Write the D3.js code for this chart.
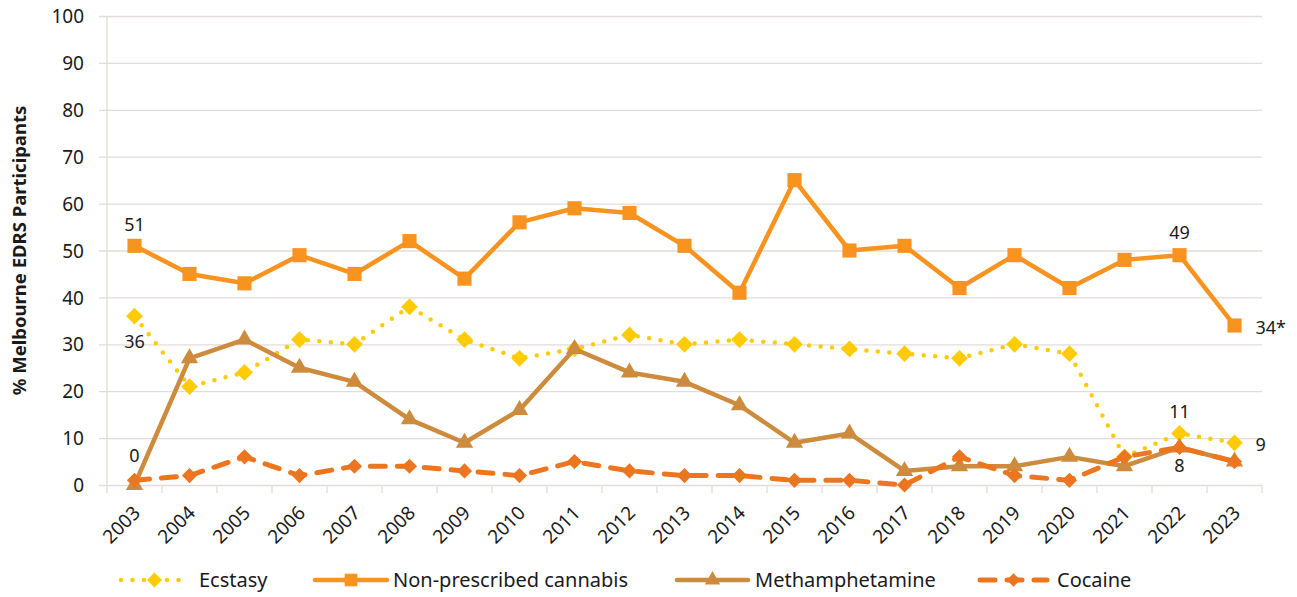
<!DOCTYPE html>
<html>
<head>
<meta charset="utf-8">
<script src="https://cdn.jsdelivr.net/npm/d3@7"></script>
<style>
body { margin: 0; background: #fff; }
svg text { font-family: "Noto Sans", "Open Sans", sans-serif; fill: #1a1a1a; }
</style>
</head>
<body>
<div id="chart"></div>
<script>
var years = ['2003','2004','2005','2006','2007','2008','2009','2010','2011','2012','2013','2014','2015','2016','2017','2018','2019','2020','2021','2022','2023'];
var ecstasy = [36,21,24,31,30,38,31,27,29,32,30,31,30,29,28,27,30,28,6,11,9];
var cannabis = [51,45,43,49,45,52,44,56,59,58,51,41,65,50,51,42,49,42,48,49,34];
var meth = [0,27,31,25,22,14,9,16,29,24,22,17,9,11,3,4,4,6,4,8,5];
var cocaine = [1,2,6,2,4,4,3,2,5,3,2,2,1,1,0,6,2,1,6,8,5];
var yTicks = [0,10,20,30,40,50,60,70,80,90,100];

var width = 1297, height = 597;
var margin = {left: 107, right: 35, top: 16, bottom: 112};

var svg = d3.select('#chart').append('svg')
    .attr('width', width)
    .attr('height', height);

var x = d3.scaleBand()
    .domain(years)
    .range([margin.left, width - margin.right]);

var y = d3.scaleLinear()
    .domain([0, 100])
    .range([height - margin.bottom, margin.top]);

var gridColor = '#e2dcd9';

// y gridlines + labels
var yAxis = svg.append('g')
    .attr('transform', 'translate(' + margin.left + ',0)')
    .call(d3.axisLeft(y).tickValues(yTicks).tickSize(-(width - margin.left - margin.right)));
yAxis.select('.domain').remove();
yAxis.selectAll('.tick line')
    .attr('stroke', gridColor)
    .attr('stroke-width', 1.3)
    .attr('x1', -8);
yAxis.selectAll('.tick text')
    .style('font-size', '19px')
    .attr('x', -23)
    .attr('dy', '0.35em');

// left axis line
svg.append('line')
    .attr('x1', margin.left).attr('x2', margin.left)
    .attr('y1', margin.top).attr('y2', y(0))
    .attr('stroke', gridColor).attr('stroke-width', 1.3);

// x ticks at category boundaries
var bounds = years.map(function(d){ return x(d); }).concat([x.range()[1]]);
svg.append('g').selectAll('line')
    .data(bounds)
    .enter()
    .append('line')
    .attr('x1', function(d){ return d; })
    .attr('x2', function(d){ return d; })
    .attr('y1', y(0))
    .attr('y2', y(0) + 8)
    .attr('stroke', gridColor)
    .attr('stroke-width', 1.3);

// x labels
svg.append('g').selectAll('text')
    .data(years)
    .enter()
    .append('text')
    .attr('transform', function(d){
        return 'translate(' + (x(d) + x.bandwidth() / 2 + 7) + ',' + (y(0) + 29) + ') rotate(-45)';
    })
    .attr('text-anchor', 'end')
    .style('font-size', '19px')
    .text(function(d){ return d; });

// y title
svg.append('text')
    .attr('transform', 'translate(26,' + ((y(0) + y(100)) / 2) + ') rotate(-90)')
    .attr('text-anchor', 'middle')
    .style('font-size', '18.5px')
    .attr('font-weight', 'bold')
    .text('% Melbourne EDRS Participants');

var series = [
    {name: 'Ecstasy', values: ecstasy, color: '#ffcb05', width: 4.5, dash: '0 11.5', marker: 'diamond', msize: 140},
    {name: 'Non-prescribed cannabis', values: cannabis, color: '#f7931e', width: 4.5, dash: null, marker: 'square', msize: 200},
    {name: 'Methamphetamine', values: meth, color: '#cd8b3e', width: 4.5, dash: null, marker: 'triangle', msize: 130},
    {name: 'Cocaine', values: cocaine, color: '#ec7520', width: 5, dash: '15 12', marker: 'diamond', msize: 115}
];

var symbolType = {
    diamond: d3.symbolSquare,
    square: d3.symbolSquare,
    triangle: d3.symbolTriangle
};

var cx = function(i){ return x(years[i]) + x.bandwidth() / 2; };

var line = d3.line()
    .x(function(d, i){ return cx(i); })
    .y(function(d){ return y(d); });

series.forEach(function(s){
    var g = svg.append('g');
    g.append('path')
        .datum(s.values)
        .attr('d', line)
        .attr('fill', 'none')
        .attr('stroke', s.color)
        .attr('stroke-width', s.width)
        .attr('stroke-linecap', 'round')
        .attr('stroke-linejoin', 'round')
        .attr('stroke-dasharray', s.dash);
    g.selectAll('path.m')
        .data(s.values)
        .enter()
        .append('path')
        .attr('class', 'm')
        .attr('d', d3.symbol().type(symbolType[s.marker]).size(s.msize))
        .attr('fill', s.color)
        .attr('transform', function(d, i){
            var r = s.marker === 'diamond' ? ' rotate(45)' : '';
            return 'translate(' + cx(i) + ',' + y(d) + ')' + r;
        });
});

// data labels (dy = offset of label centre from the point)
var labels = [
    {v: cannabis, i: 0, dy: -21},
    {v: cannabis, i: 19, dy: -22},
    {v: cannabis, i: 20, dy: 2, right: true, suffix: '*'},
    {v: ecstasy, i: 0, dy: 26},
    {v: ecstasy, i: 19, dy: -22},
    {v: ecstasy, i: 20, dy: 2, right: true},
    {v: meth, i: 0, dy: -29},
    {v: meth, i: 19, dy: 18}
];
svg.append('g').selectAll('text')
    .data(labels)
    .enter()
    .append('text')
    .style('font-size', '18px')
    .attr('dy', '0.35em')
    .attr('text-anchor', function(d){ return d.right ? 'start' : 'middle'; })
    .attr('x', function(d){ return d.right ? cx(d.i) + 21 : cx(d.i); })
    .attr('y', function(d){ return y(d.v[d.i]) + d.dy; })
    .text(function(d){ return d.v[d.i] + (d.suffix || ''); });

// legend
var legendX = [121, 315, 677, 980];
var legendEnd = [188, 387, 748, 1047];
var legendTextX = [199, 393, 755, 1057];
var ly = 580;
var lg = svg.append('g');
series.forEach(function(s, k){
    var x0 = legendX[k], x1 = legendEnd[k];
    lg.append('line')
        .attr('x1', x0).attr('x2', x1)
        .attr('y1', ly).attr('y2', ly)
        .attr('stroke', s.color)
        .attr('stroke-width', s.width)
        .attr('stroke-linecap', 'round')
        .attr('stroke-dasharray', s.dash);
    lg.append('path')
        .attr('d', d3.symbol().type(symbolType[s.marker]).size(s.msize * 0.8))
        .attr('fill', s.color)
        .attr('transform', 'translate(' + ((x0 + x1) / 2) + ',' + ly + ')' + (s.marker === 'diamond' ? ' rotate(45)' : ''));
    lg.append('text')
        .attr('x', legendTextX[k])
        .attr('y', ly)
        .attr('dy', '0.35em')
        .style('font-size', '20px')
        .text(s.name);
});
</script>
</body>
</html>
